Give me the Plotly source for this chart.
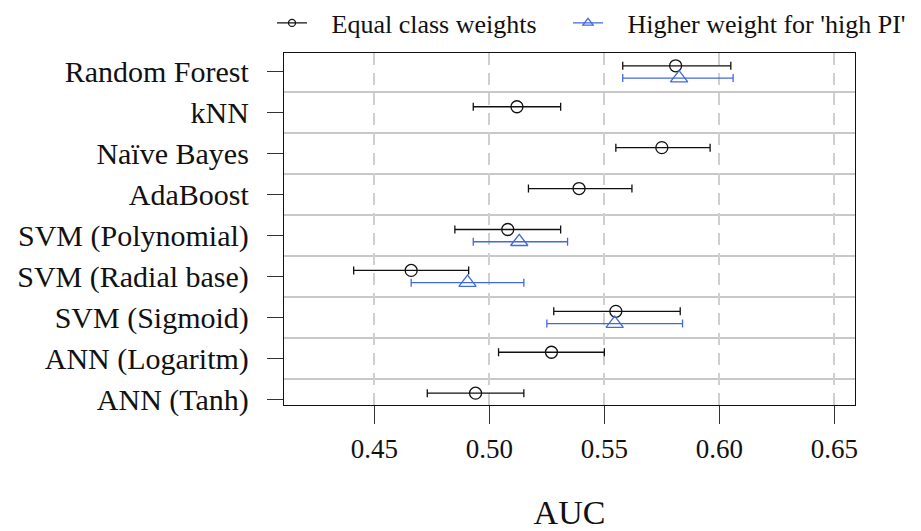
import plotly.graph_objects as go

# Classifiers, top to bottom
models = ["Random Forest", "kNN", "Naïve Bayes", "AdaBoost", "SVM (Polynomial)",
          "SVM (Radial base)", "SVM (Sigmoid)", "ANN (Logaritm)", "ANN (Tanh)"]

# Equal class weights: mean AUC with lower / upper interval bounds
equal_auc = [0.581, 0.512, 0.575, 0.539, 0.508, 0.466, 0.555, 0.527, 0.494]
equal_lo = [0.558, 0.493, 0.555, 0.517, 0.485, 0.441, 0.528, 0.504, 0.473]
equal_hi = [0.605, 0.531, 0.596, 0.562, 0.531, 0.491, 0.583, 0.550, 0.515]

# Higher weight for 'high PI' (only some classifiers)
high_models = ["Random Forest", "SVM (Polynomial)", "SVM (Radial base)", "SVM (Sigmoid)"]
high_auc = [0.5825, 0.513, 0.4905, 0.5545]
high_lo = [0.558, 0.493, 0.466, 0.525]
high_hi = [0.606, 0.534, 0.515, 0.584]

x_ticks = [0.45, 0.50, 0.55, 0.60, 0.65]
x_tick_text = ["0.45", "0.50", "0.55", "0.60", "0.65"]

FONT = "Liberation Serif"
BLACK = "#111111"
BLUE = "#4169E1"
n = len(models)
ypos = {m: n - i for i, m in enumerate(models)}
shift = 0.15
GAP = "\u00a0\u00a0\u00a0"  # extra room between legend sample and label

fig = go.Figure()

fig.add_trace(go.Scatter(
    x=equal_auc,
    y=[ypos[m] + shift for m in models],
    mode="markers",
    marker=dict(symbol="circle-open", size=12, color=BLACK, line=dict(width=1.3, color=BLACK)),
    error_x=dict(type="data", symmetric=False,
                 array=[h - a for h, a in zip(equal_hi, equal_auc)],
                 arrayminus=[a - l for a, l in zip(equal_auc, equal_lo)],
                 color=BLACK, thickness=1.3, width=4),
    showlegend=False,
))

fig.add_trace(go.Scatter(
    x=high_auc,
    y=[ypos[m] - shift for m in high_models],
    mode="markers",
    marker=dict(symbol="triangle-up-open", size=15, color=BLUE, line=dict(width=1.3, color=BLUE)),
    error_x=dict(type="data", symmetric=False,
                 array=[h - a for h, a in zip(high_hi, high_auc)],
                 arrayminus=[a - l for a, l in zip(high_auc, high_lo)],
                 color=BLUE, thickness=1.3, width=4),
    showlegend=False,
))

# Legend entries (line + symbol samples), one legend box per series
fig.add_trace(go.Scatter(
    x=[None], y=[None], mode="lines+markers", name=GAP + "Equal class weights",
    line=dict(color=BLACK, width=1.3), legend="legend",
    marker=dict(symbol="circle-open", size=7, color=BLACK, line=dict(width=1.3, color=BLACK)),
))
fig.add_trace(go.Scatter(
    x=[None], y=[None], mode="lines+markers", name=GAP + "Higher weight for 'high PI'",
    line=dict(color=BLUE, width=1.3), legend="legend2",
    marker=dict(symbol="triangle-up-open", size=9, color=BLUE, line=dict(width=1.3, color=BLUE)),
))

legend_common = dict(orientation="h", xanchor="left", xref="container",
                     y=1 - 23 / 531, yanchor="middle", yref="container",
                     font=dict(size=26, family=FONT), itemwidth=30,
                     bgcolor="rgba(0,0,0,0)")

fig.update_layout(
    width=921, height=531,
    margin=dict(l=284, r=66, t=53, b=126, autoexpand=False),
    paper_bgcolor="white", plot_bgcolor="white",
    font=dict(family=FONT, color="#111111"),
    legend=dict(x=272 / 921, **legend_common),
    legend2=dict(x=568 / 921, **legend_common),
    xaxis=dict(
        range=[0.4107, 0.659],
        tickvals=x_ticks, ticktext=x_tick_text,
        tickfont=dict(size=27, family=FONT),
        ticks="outside", ticklen=18, tickwidth=1.2, tickcolor="#333333",
        ticklabelstandoff=1,
        showline=True, linecolor=BLACK, linewidth=1.3, mirror=True,
        showgrid=True, gridcolor="#cfcfcf", gridwidth=1.5, griddash="12px,8px",
        zeroline=False,
        title=dict(text="AUC", font=dict(size=34, family=FONT), standoff=50),
    ),
    yaxis=dict(
        range=[0.861, 9.463],
        tickvals=[ypos[m] for m in models], ticktext=models,
        tickfont=dict(size=30, family=FONT),
        ticks="outside", ticklen=16, tickwidth=1.2, tickcolor="#333333",
        ticklabelstandoff=12,
        showline=True, linecolor=BLACK, linewidth=1.3, mirror=True,
        showgrid=False, zeroline=False,
        minor=dict(tickvals=[k + 0.5 for k in range(1, n)], showgrid=True,
                   gridcolor="#c8c8c8", gridwidth=1.5, ticks=""),
    ),
)

fig.write_html("out.html")
